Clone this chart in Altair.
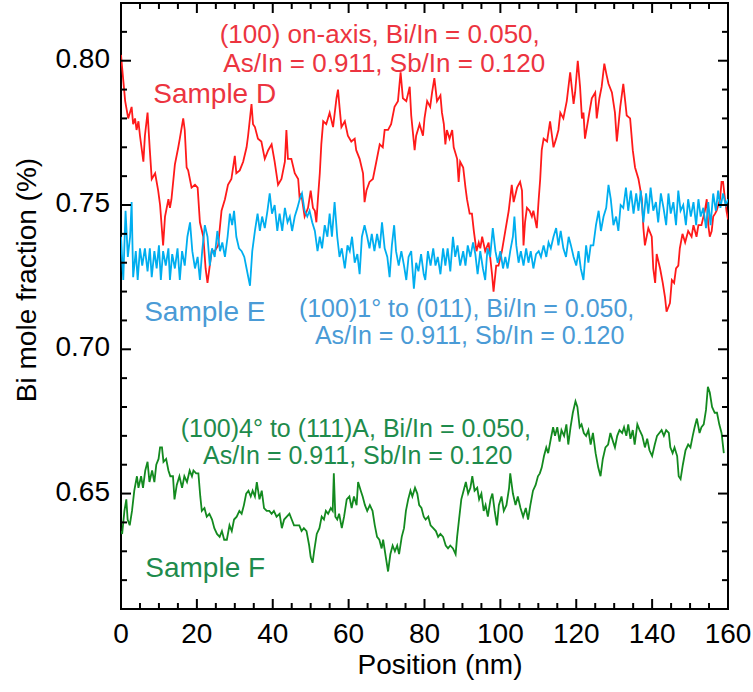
import altair as alt
import pandas as pd

# ---------------- data ----------------
red_points = [
    (0.0, 0.802), (0.2, 0.799), (1.1, 0.786), (1.9, 0.780), (2.8, 0.784), (3.2, 0.778), (3.7, 0.780),
    (4.1, 0.776), (4.6, 0.779), (5.0, 0.774), (5.9, 0.765), (6.3, 0.774), (7.0, 0.782), (7.6, 0.769),
    (8.1, 0.759), (9.0, 0.761), (9.8, 0.755), (10.3, 0.750), (11.1, 0.736), (11.6, 0.746), (12.5, 0.752),
    (12.9, 0.749), (13.3, 0.752), (14.2, 0.764), (15.1, 0.770), (15.5, 0.773), (16.4, 0.780), (16.8, 0.776),
    (17.3, 0.763), (17.7, 0.762), (18.6, 0.756), (19.5, 0.757), (20.2, 0.756), (20.8, 0.744), (21.7, 0.739),
    (22.3, 0.728), (22.8, 0.723), (23.4, 0.729), (23.9, 0.734), (24.7, 0.734), (25.6, 0.736), (26.5, 0.748),
    (27.4, 0.752), (28.2, 0.757), (29.1, 0.759), (30.0, 0.767), (30.4, 0.761), (31.3, 0.762), (32.2, 0.765),
    (33.1, 0.770), (33.5, 0.774), (34.4, 0.785), (34.8, 0.778), (35.3, 0.777), (36.1, 0.773), (37.0, 0.772),
    (37.9, 0.766), (38.8, 0.769), (39.7, 0.771), (40.5, 0.765), (41.4, 0.757), (42.3, 0.759), (43.2, 0.765),
    (43.6, 0.776), (44.0, 0.766), (44.9, 0.766), (45.8, 0.761), (46.7, 0.759), (47.1, 0.752), (47.5, 0.754),
    (48.4, 0.746), (49.3, 0.749), (50.0, 0.755), (50.6, 0.749), (51.1, 0.748), (51.5, 0.744), (51.9, 0.752),
    (52.4, 0.761), (52.8, 0.771), (53.3, 0.779), (54.1, 0.778), (55.0, 0.782), (55.9, 0.777), (56.8, 0.787),
    (57.2, 0.790), (57.6, 0.784), (58.1, 0.777), (59.0, 0.779), (59.8, 0.774), (60.7, 0.772), (61.6, 0.773),
    (62.0, 0.769), (62.9, 0.766), (63.8, 0.761), (64.2, 0.751), (64.7, 0.755), (65.5, 0.758), (66.4, 0.759),
    (67.3, 0.765), (68.2, 0.771), (69.0, 0.770), (69.5, 0.776), (70.4, 0.776), (71.2, 0.778), (72.1, 0.784),
    (73.0, 0.786), (73.7, 0.796), (74.3, 0.787), (75.2, 0.786), (76.1, 0.791), (76.5, 0.781), (77.4, 0.769),
    (77.8, 0.774), (78.7, 0.778), (79.6, 0.774), (80.0, 0.780), (80.7, 0.786), (81.5, 0.784), (82.0, 0.789),
    (82.6, 0.794), (83.3, 0.786), (84.2, 0.788), (84.6, 0.782), (85.1, 0.778), (85.5, 0.771), (85.9, 0.776),
    (86.6, 0.773), (87.3, 0.776), (87.7, 0.770), (88.6, 0.766), (89.0, 0.758), (89.4, 0.765), (90.2, 0.763),
    (90.8, 0.756), (91.2, 0.752), (91.9, 0.747), (92.5, 0.747), (93.0, 0.741), (93.7, 0.734), (94.3, 0.737),
    (94.7, 0.735), (95.2, 0.739), (96.0, 0.734), (96.9, 0.737), (97.8, 0.726), (98.2, 0.720), (98.9, 0.729),
    (99.5, 0.729), (100.4, 0.734), (101.3, 0.741), (102.2, 0.748), (103.0, 0.757), (103.5, 0.751),
    (104.4, 0.756), (105.2, 0.758), (105.7, 0.755), (106.1, 0.736), (106.5, 0.744), (107.0, 0.749),
    (107.7, 0.748), (108.3, 0.746), (108.7, 0.748), (109.6, 0.742), (110.1, 0.752), (110.5, 0.759),
    (110.9, 0.769), (111.4, 0.773), (112.3, 0.772), (113.1, 0.779), (113.6, 0.774), (114.0, 0.770),
    (114.7, 0.773), (115.3, 0.776), (115.8, 0.782), (116.6, 0.780), (117.5, 0.786), (118.4, 0.796),
    (118.8, 0.791), (119.3, 0.785), (119.7, 0.789), (120.4, 0.800), (121.0, 0.791), (121.5, 0.780),
    (121.9, 0.782), (122.3, 0.773), (123.2, 0.780), (124.1, 0.787), (125.0, 0.789), (125.4, 0.780),
    (126.1, 0.787), (126.7, 0.791), (127.4, 0.799), (128.0, 0.795), (128.5, 0.792), (129.4, 0.789),
    (130.2, 0.782), (130.7, 0.772), (131.6, 0.784), (132.4, 0.792), (132.9, 0.786), (133.3, 0.781),
    (134.2, 0.780), (134.9, 0.769), (135.5, 0.763), (136.4, 0.759), (136.8, 0.756), (137.3, 0.752),
    (137.7, 0.742), (138.1, 0.736), (139.0, 0.742), (139.9, 0.739), (140.3, 0.728), (140.8, 0.723),
    (141.2, 0.733), (142.1, 0.728), (142.8, 0.723), (143.4, 0.718), (143.8, 0.713), (144.7, 0.716),
    (145.2, 0.724), (145.8, 0.723), (146.3, 0.728), (146.9, 0.729), (147.3, 0.735), (148.0, 0.740),
    (148.7, 0.737), (149.5, 0.741), (150.4, 0.739), (150.9, 0.743), (151.7, 0.739), (152.2, 0.743),
    (153.0, 0.743), (153.9, 0.748), (154.4, 0.752), (154.8, 0.743), (155.2, 0.739), (155.7, 0.741),
    (156.1, 0.746), (156.6, 0.747), (157.0, 0.748), (157.9, 0.752), (158.3, 0.758), (158.7, 0.758),
    (159.2, 0.752), (159.6, 0.748), (160.0, 0.745),
]

blue_points = [
    (0.0, 0.739), (0.6, 0.724), (1.2, 0.748), (1.8, 0.732), (2.4, 0.739), (2.8, 0.751), (3.2, 0.725),
    (3.9, 0.734), (4.4, 0.724), (5.0, 0.735), (5.6, 0.729), (6.3, 0.735), (7.0, 0.727), (7.6, 0.735),
    (8.1, 0.725), (8.8, 0.734), (9.4, 0.728), (10.0, 0.736), (10.5, 0.724), (11.1, 0.734), (11.8, 0.729),
    (12.5, 0.735), (12.9, 0.724), (13.5, 0.733), (14.2, 0.728), (14.9, 0.735), (15.5, 0.724), (16.1, 0.734),
    (16.8, 0.729), (17.5, 0.739), (18.2, 0.744), (18.8, 0.734), (19.5, 0.728), (20.2, 0.732), (20.8, 0.724),
    (21.4, 0.734), (22.1, 0.743), (22.8, 0.739), (23.4, 0.729), (24.0, 0.735), (24.7, 0.732), (25.4, 0.741),
    (26.1, 0.734), (26.7, 0.737), (27.4, 0.732), (28.1, 0.739), (28.7, 0.747), (29.3, 0.743), (29.8, 0.748),
    (30.4, 0.739), (31.1, 0.735), (31.8, 0.734), (32.5, 0.732), (33.1, 0.728), (34.0, 0.722), (34.6, 0.734),
    (35.3, 0.741), (36.0, 0.747), (36.6, 0.741), (37.2, 0.746), (37.9, 0.742), (38.6, 0.748), (39.2, 0.754),
    (39.8, 0.747), (40.5, 0.750), (41.2, 0.741), (41.8, 0.747), (42.5, 0.741), (43.2, 0.749), (43.9, 0.744),
    (44.5, 0.746), (45.1, 0.741), (45.8, 0.746), (46.5, 0.749), (47.1, 0.752), (47.7, 0.754), (48.4, 0.748),
    (49.1, 0.746), (49.7, 0.748), (50.4, 0.744), (51.1, 0.741), (51.8, 0.734), (52.4, 0.739), (53.0, 0.735),
    (53.7, 0.743), (54.4, 0.739), (55.0, 0.747), (55.6, 0.739), (56.3, 0.751), (57.0, 0.739), (57.6, 0.732),
    (58.2, 0.735), (59.0, 0.728), (59.7, 0.736), (60.3, 0.734), (60.9, 0.739), (61.6, 0.730), (62.3, 0.733),
    (62.9, 0.726), (63.5, 0.739), (64.2, 0.743), (64.9, 0.739), (65.5, 0.735), (66.1, 0.740), (66.8, 0.734),
    (67.5, 0.740), (68.2, 0.735), (68.8, 0.744), (69.5, 0.735), (70.2, 0.732), (70.8, 0.725), (71.4, 0.736),
    (72.0, 0.743), (72.5, 0.734), (73.2, 0.729), (73.9, 0.734), (74.6, 0.729), (75.2, 0.724), (75.8, 0.732),
    (76.5, 0.734), (77.2, 0.721), (77.8, 0.730), (78.4, 0.727), (79.1, 0.733), (79.8, 0.726), (80.2, 0.724),
    (80.9, 0.734), (81.6, 0.729), (82.3, 0.735), (82.9, 0.729), (83.5, 0.732), (84.2, 0.726), (84.9, 0.735),
    (85.5, 0.729), (86.1, 0.735), (86.8, 0.727), (87.5, 0.739), (88.1, 0.732), (88.7, 0.736), (89.4, 0.729),
    (90.2, 0.734), (90.8, 0.729), (91.4, 0.736), (92.1, 0.732), (92.8, 0.737), (93.4, 0.733), (94.0, 0.726),
    (94.7, 0.734), (95.4, 0.728), (96.0, 0.724), (96.6, 0.735), (97.3, 0.732), (98.0, 0.742), (98.7, 0.734),
    (99.3, 0.730), (100.0, 0.734), (100.7, 0.728), (101.3, 0.732), (101.9, 0.728), (102.6, 0.734),
    (103.3, 0.739), (103.7, 0.746), (104.2, 0.736), (104.8, 0.730), (105.4, 0.734), (106.1, 0.729),
    (106.8, 0.735), (107.4, 0.730), (108.0, 0.734), (108.7, 0.728), (109.4, 0.733), (110.1, 0.734),
    (110.7, 0.732), (111.4, 0.736), (112.1, 0.732), (112.7, 0.737), (113.3, 0.735), (114.0, 0.739),
    (114.7, 0.742), (115.3, 0.736), (115.9, 0.741), (116.6, 0.735), (117.3, 0.732), (118.0, 0.739),
    (118.6, 0.736), (119.3, 0.732), (120.0, 0.729), (120.6, 0.734), (121.2, 0.728), (121.9, 0.724),
    (122.6, 0.736), (123.2, 0.730), (123.8, 0.736), (124.5, 0.736), (125.2, 0.743), (125.9, 0.748),
    (126.5, 0.741), (127.2, 0.746), (127.9, 0.749), (128.5, 0.757), (129.1, 0.752), (129.8, 0.743),
    (130.5, 0.746), (131.1, 0.741), (131.7, 0.750), (132.4, 0.749), (133.1, 0.756), (133.7, 0.748),
    (134.4, 0.755), (135.1, 0.747), (135.8, 0.754), (136.4, 0.748), (137.0, 0.755), (137.7, 0.744),
    (138.4, 0.754), (139.0, 0.747), (139.6, 0.756), (140.3, 0.748), (141.0, 0.751), (141.6, 0.744),
    (142.3, 0.754), (143.0, 0.749), (143.7, 0.743), (144.3, 0.754), (144.9, 0.747), (145.6, 0.751),
    (146.3, 0.743), (146.9, 0.755), (147.5, 0.748), (148.2, 0.750), (148.9, 0.743), (149.5, 0.752),
    (150.2, 0.746), (150.9, 0.751), (151.6, 0.743), (152.2, 0.752), (152.8, 0.746), (153.5, 0.749),
    (154.2, 0.742), (154.8, 0.751), (155.4, 0.743), (156.1, 0.754), (156.8, 0.748), (157.4, 0.755),
    (158.0, 0.749), (158.7, 0.754), (159.4, 0.750), (160.0, 0.752),
]

green_points = [
    (0.0, 0.637), (0.3, 0.636), (0.9, 0.644), (1.4, 0.648), (1.75, 0.641), (2.3, 0.639), (2.9, 0.644),
    (3.5, 0.651), (4.2, 0.656), (4.6, 0.652), (5.3, 0.656), (5.8, 0.652), (6.4, 0.658), (7.0, 0.661),
    (7.5, 0.654), (8.2, 0.658), (8.8, 0.654), (9.3, 0.660), (9.9, 0.662), (10.3, 0.666), (10.8, 0.666),
    (11.2, 0.661), (11.9, 0.662), (12.5, 0.658), (13.0, 0.656), (13.7, 0.656), (14.1, 0.648), (14.7, 0.653),
    (15.4, 0.656), (16.1, 0.652), (16.7, 0.656), (17.4, 0.654), (18.1, 0.658), (18.7, 0.656), (19.1, 0.658),
    (19.8, 0.657), (20.4, 0.657), (20.9, 0.649), (21.3, 0.644), (22.0, 0.645), (22.6, 0.642), (23.3, 0.643),
    (24.0, 0.641), (24.6, 0.638), (25.3, 0.636), (26.0, 0.635), (26.6, 0.637), (27.2, 0.634), (27.9, 0.634),
    (28.6, 0.639), (29.2, 0.637), (29.8, 0.641), (30.5, 0.642), (31.2, 0.644), (31.8, 0.643), (32.4, 0.646),
    (33.0, 0.650), (33.6, 0.651), (34.2, 0.649), (34.7, 0.651), (35.3, 0.649), (35.8, 0.654), (36.5, 0.648),
    (37.1, 0.651), (37.7, 0.645), (38.4, 0.644), (39.1, 0.644), (39.7, 0.643), (40.3, 0.644), (41.0, 0.642),
    (41.8, 0.643), (42.4, 0.638), (43.0, 0.641), (43.7, 0.642), (44.4, 0.643), (45.0, 0.641), (45.6, 0.639),
    (46.3, 0.639), (47.0, 0.639), (47.6, 0.637), (48.2, 0.638), (48.9, 0.637), (49.6, 0.632), (50.0, 0.628),
    (50.5, 0.626), (50.9, 0.630), (51.6, 0.636), (52.3, 0.638), (52.9, 0.642), (53.5, 0.641), (54.0, 0.644),
    (54.6, 0.643), (55.3, 0.645), (55.8, 0.644), (56.1, 0.657), (56.5, 0.642), (57.0, 0.641), (57.5, 0.643),
    (58.2, 0.638), (58.8, 0.642), (59.5, 0.648), (60.2, 0.649), (60.8, 0.645), (61.4, 0.649), (62.1, 0.646),
    (62.5, 0.654), (63.2, 0.651), (63.7, 0.649), (64.3, 0.646), (64.9, 0.644), (65.6, 0.646), (66.3, 0.644),
    (66.9, 0.639), (67.5, 0.635), (68.1, 0.634), (68.7, 0.631), (69.1, 0.634), (69.8, 0.628), (70.4, 0.623),
    (71.0, 0.629), (71.6, 0.632), (72.2, 0.630), (72.8, 0.632), (73.3, 0.629), (74.0, 0.635), (74.6, 0.638),
    (75.1, 0.644), (75.7, 0.648), (76.3, 0.651), (76.8, 0.649), (77.5, 0.652), (78.1, 0.650), (78.6, 0.646),
    (79.2, 0.645), (79.8, 0.642), (80.3, 0.641), (81.0, 0.642), (81.6, 0.639), (82.3, 0.638), (83.0, 0.637),
    (83.6, 0.635), (84.2, 0.636), (84.9, 0.635), (85.6, 0.632), (86.2, 0.631), (86.8, 0.632), (87.5, 0.631),
    (88.2, 0.629), (88.6, 0.635), (89.1, 0.641), (89.7, 0.648), (90.3, 0.651), (90.9, 0.654), (91.5, 0.650),
    (92.1, 0.652), (92.6, 0.656), (93.2, 0.651), (93.9, 0.652), (94.4, 0.648), (95.0, 0.650), (95.6, 0.644),
    (96.1, 0.646), (96.7, 0.642), (97.4, 0.648), (97.9, 0.650), (98.5, 0.644), (99.1, 0.639), (99.6, 0.646),
    (100.3, 0.649), (100.9, 0.644), (101.6, 0.646), (102.3, 0.652), (102.6, 0.657), (103.3, 0.650),
    (104.0, 0.646), (104.6, 0.649), (105.3, 0.645), (106.0, 0.642), (106.7, 0.645), (107.3, 0.641),
    (107.9, 0.646), (108.6, 0.651), (109.3, 0.653), (109.9, 0.656), (110.4, 0.657), (110.9, 0.659),
    (111.5, 0.663), (112.1, 0.666), (112.6, 0.664), (113.3, 0.669), (113.9, 0.673), (114.4, 0.670),
    (115.0, 0.673), (115.6, 0.668), (116.1, 0.672), (116.8, 0.670), (117.4, 0.674), (117.9, 0.667),
    (118.5, 0.673), (119.1, 0.678), (119.8, 0.682), (120.3, 0.680), (120.9, 0.673), (121.4, 0.674),
    (122.0, 0.671), (122.6, 0.670), (123.2, 0.672), (123.8, 0.667), (124.4, 0.671), (125.1, 0.664),
    (125.8, 0.659), (126.4, 0.656), (127.0, 0.662), (127.7, 0.666), (128.4, 0.667), (129.0, 0.671),
    (129.7, 0.668), (130.2, 0.666), (130.8, 0.670), (131.4, 0.672), (132.1, 0.671), (132.6, 0.673),
    (133.2, 0.670), (133.7, 0.674), (134.3, 0.669), (134.9, 0.672), (135.4, 0.667), (136.1, 0.674),
    (136.7, 0.672), (137.4, 0.670), (138.1, 0.666), (138.7, 0.669), (139.3, 0.665), (140.0, 0.663),
    (140.7, 0.667), (141.3, 0.670), (141.9, 0.671), (142.5, 0.672), (143.1, 0.670), (143.7, 0.672),
    (144.4, 0.671), (144.8, 0.666), (145.4, 0.664), (145.9, 0.666), (146.6, 0.663), (147.0, 0.656),
    (147.5, 0.655), (148.1, 0.660), (148.8, 0.665), (149.5, 0.667), (150.1, 0.666), (150.7, 0.670),
    (151.2, 0.673), (151.8, 0.676), (152.5, 0.671), (153.0, 0.673), (153.6, 0.674), (154.2, 0.679),
    (154.7, 0.687), (155.2, 0.685), (155.8, 0.680), (156.5, 0.678), (157.1, 0.678), (157.7, 0.674),
    (158.3, 0.671), (158.9, 0.664),
]

series_names = ["D", "E", "F"]
line_colors = ["#ff1a1a", "#00aeef", "#138a1f"]
text_colors = ["#ec3440", "#4a9bd6", "#1e8b4c"]

x_major = [0, 20, 40, 60, 80, 100, 120, 140, 160]
x_minor = [5, 10, 15, 25, 30, 35, 45, 50, 55, 65, 70, 75, 85, 90, 95, 105, 110, 115,
           125, 130, 135, 145, 150, 155]
y_major = [0.65, 0.70, 0.75, 0.80]
y_minor = [0.62, 0.63, 0.64, 0.66, 0.67, 0.68, 0.69, 0.71, 0.72, 0.73, 0.74, 0.76,
           0.77, 0.78, 0.79, 0.81]
x_tick_labels = ["0", "20", "40", "60", "80", "100", "120", "140", "160"]
y_tick_labels = ["0.65", "0.70", "0.75", "0.80"]
x_title = "Position (nm)"
y_title = "Bi mole fraction (%)"

info_lines = [
    (68.2, 0.8061, "(100) on-axis, Bi/In = 0.050,", "D", 26),
    (69.4, 0.7960, "As/In = 0.911, Sb/In = 0.120", "D", 26),
    (91.1, 0.7112, "(100)1\u00b0 to (011), Bi/In = 0.050,", "E", 25),
    (91.9, 0.7018, "As/In = 0.911, Sb/In = 0.120", "E", 25),
    (61.9, 0.6697, "(100)4\u00b0 to (111)A, Bi/In = 0.050,", "F", 25),
    (62.4, 0.6601, "As/In = 0.911, Sb/In = 0.120", "F", 25),
]
sample_labels = [
    (8.5, 0.7853, "Sample D", "D"),
    (6.1, 0.7098, "Sample E", "E"),
    (6.4, 0.6212, "Sample F", "F"),
]

# ---------------- tables ----------------
rows = []
for name, pts in zip(series_names, [red_points, blue_points, green_points]):
    for i, (xv, yv) in enumerate(pts):
        rows.append({"x": xv, "y": yv, "sample": name, "i": i})
df = pd.DataFrame(rows)
info_df = pd.DataFrame(info_lines, columns=["x", "y", "text", "sample", "fs"])
lab_df = pd.DataFrame(sample_labels, columns=["x", "y", "text", "sample"])
xlab_df = pd.DataFrame({"v": x_major, "t": x_tick_labels})
ylab_df = pd.DataFrame({"v": y_major, "t": y_tick_labels})

W, H = 607, 606
FONT = "Liberation Sans"
MAJ, MIN = 10, 6

xs = alt.Scale(domain=[0, 160], nice=False, zero=False)
ys = alt.Scale(domain=[0.61, 0.82], nice=False, zero=False)
line_col = alt.Scale(domain=series_names, range=line_colors)
text_col = alt.Scale(domain=series_names, range=text_colors)

# same structure as the run whose inward ticks were drawn: the line layer carries an
# axis definition (merged away by the other layers' axis=None) and clips its marks
lines = alt.Chart(df).mark_line(strokeWidth=1.8, clip=True).encode(
    x=alt.X("x:Q", scale=xs, axis=alt.Axis(values=x_major, title=x_title)),
    y=alt.Y("y:Q", scale=ys, axis=alt.Axis(values=y_major, title=y_title)),
    color=alt.Color("sample:N", scale=line_col, legend=None),
    order="i:Q",
)


def hticks(vals, length):
    d = pd.DataFrame({"v": vals})
    bottom = alt.Chart(d).mark_rule(color="black", strokeWidth=2).encode(
        x=alt.X("v:Q", scale=xs, axis=None), y=alt.value(H), y2=alt.value(H - length))
    top = alt.Chart(d).mark_rule(color="black", strokeWidth=2).encode(
        x=alt.X("v:Q", scale=xs, axis=None), y=alt.value(0), y2=alt.value(length))
    return [bottom, top]


def vticks(vals, length):
    d = pd.DataFrame({"v": vals})
    left = alt.Chart(d).mark_rule(color="black", strokeWidth=2).encode(
        y=alt.Y("v:Q", scale=ys, axis=None), x=alt.value(0), x2=alt.value(length))
    right = alt.Chart(d).mark_rule(color="black", strokeWidth=2).encode(
        y=alt.Y("v:Q", scale=ys, axis=None), x=alt.value(W), x2=alt.value(W - length))
    return [left, right]


# tick labels and axis titles as text
xlabels = alt.Chart(xlab_df).mark_text(
    font=FONT, fontSize=28, color="black", align="center", baseline="alphabetic").encode(
    x=alt.X("v:Q", scale=xs, axis=None), y=alt.value(H + 34), text="t:N")
ylabels = alt.Chart(ylab_df).mark_text(
    font=FONT, fontSize=28, color="black", align="right", baseline="alphabetic", dy=7).encode(
    y=alt.Y("v:Q", scale=ys, axis=None), x=alt.value(-11), text="t:N")
xtitle = alt.Chart(pd.DataFrame({"t": [x_title]})).mark_text(
    font=FONT, fontSize=28, color="black", align="center", baseline="alphabetic").encode(
    x=alt.value(319), y=alt.value(671), text="t:N")
ytitle = alt.Chart(pd.DataFrame({"t": [y_title]})).mark_text(
    font=FONT, fontSize=28, color="black", align="center", baseline="middle", angle=270).encode(
    x=alt.value(-93), y=alt.value(277), text="t:N")

info = alt.Chart(info_df).mark_text(font=FONT, align="center", baseline="alphabetic").encode(
    x=alt.X("x:Q", scale=xs, axis=None),
    y=alt.Y("y:Q", scale=ys, axis=None),
    text="text:N",
    size=alt.Size("fs:Q", scale=None, legend=None),
    color=alt.Color("sample:N", scale=text_col, legend=None))

labels = alt.Chart(lab_df).mark_text(
    font=FONT, fontSize=28, align="left", baseline="alphabetic").encode(
    x=alt.X("x:Q", scale=xs, axis=None),
    y=alt.Y("y:Q", scale=ys, axis=None),
    text="text:N", color=alt.Color("sample:N", scale=text_col, legend=None))

layers = [lines] + hticks(x_major, MAJ) + hticks(x_minor, MIN) + vticks(y_major, MAJ) \
    + vticks(y_minor, MIN) + [xlabels, ylabels, xtitle, ytitle, info, labels]

chart = alt.layer(*layers).resolve_scale(color="independent").properties(
    width=W, height=H,
    background="white",
    autosize=alt.AutoSizeParams(type="none"),
    padding={"left": 121, "top": 3, "right": 25, "bottom": 83},
).configure_view(stroke="black", strokeWidth=2).configure_axis(
    grid=False, ticks=False, domain=False,
    labelFontSize=28, labelFont=FONT, labelColor="black", labelPadding=11,
    titleFontSize=28, titleFont=FONT, titleFontWeight="normal", titleColor="black",
)

chart.save("out.html", embed_options={"renderer": "svg", "actions": False})
